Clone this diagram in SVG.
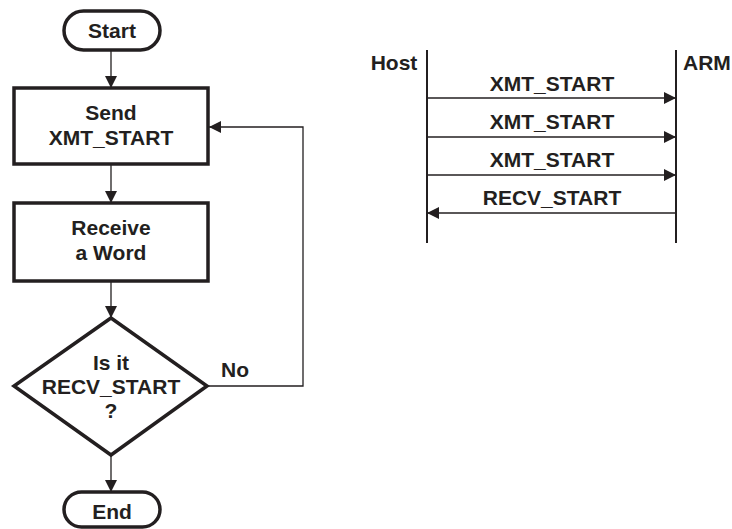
<svg xmlns="http://www.w3.org/2000/svg" width="732" height="529" viewBox="0 0 732 529">
<defs>
<marker id="ah" viewBox="0 0 12 12" refX="12" refY="6" markerWidth="12" markerHeight="12" markerUnits="userSpaceOnUse" orient="auto">
<path d="M0,0 L12,6 L0,12 Z" fill="#231f20"/>
</marker>
</defs>
<style>
text{font-family:"Liberation Sans",Arial,sans-serif;font-weight:bold;font-size:21px;fill:#231f20;text-anchor:middle}
.box{fill:#fff;stroke:#231f20;stroke-width:3.5}
.ln{fill:none;stroke:#231f20;stroke-width:1.3}
.life{fill:none;stroke:#231f20;stroke-width:2}
</style>
<rect width="732" height="529" fill="#fff"/>
<g id="connectors">
<line class="ln" x1="111" y1="50" x2="111" y2="88" marker-end="url(#ah)"/>
<line class="ln" x1="111" y1="164" x2="111" y2="203" marker-end="url(#ah)"/>
<line class="ln" x1="111" y1="281" x2="111" y2="318" marker-end="url(#ah)"/>
<line class="ln" x1="111" y1="455" x2="111" y2="492" marker-end="url(#ah)"/>
<polyline class="ln" points="207,386 303,386 303,127 209,127" marker-end="url(#ah)"/>
<text x="235" y="377">No</text>
</g>
<g id="start">
<rect class="box" x="64" y="11" width="96" height="39" rx="19.5"/>
<text x="112" y="38">Start</text>
</g>
<g id="send">
<rect class="box" x="14" y="88" width="194" height="76"/>
<text x="111" y="120">Send</text>
<text x="111" y="145">XMT_START</text>
</g>
<g id="receive">
<rect class="box" x="14" y="203" width="194" height="78"/>
<text x="111" y="235">Receive</text>
<text x="111" y="260">a Word</text>
</g>
<g id="decision">
<polygon class="box" points="111,318 207,386 111,455 14,386"/>
<text x="111" y="370">Is it</text>
<text x="111" y="394">RECV_START</text>
<text x="111" y="418">?</text>
</g>
<g id="end">
<rect class="box" x="64" y="492" width="96" height="35" rx="17.5"/>
<text x="112" y="519">End</text>
</g>
<g id="host">
<line class="life" x1="427" y1="50" x2="427" y2="243"/>
<text x="394" y="70">Host</text>
</g>
<g id="arm">
<line class="life" x1="676" y1="50" x2="676" y2="243"/>
<text x="683" y="70" style="text-anchor:start">ARM</text>
</g>
<g id="messages">
<line class="ln" x1="427" y1="98" x2="676" y2="98" marker-end="url(#ah)"/>
<text x="552" y="91">XMT_START</text>
<line class="ln" x1="427" y1="137" x2="676" y2="137" marker-end="url(#ah)"/>
<text x="552" y="129">XMT_START</text>
<line class="ln" x1="427" y1="175" x2="676" y2="175" marker-end="url(#ah)"/>
<text x="552" y="167">XMT_START</text>
<line class="ln" x1="676" y1="213" x2="427" y2="213" marker-end="url(#ah)"/>
<text x="552" y="205">RECV_START</text>
</g>
</svg>
